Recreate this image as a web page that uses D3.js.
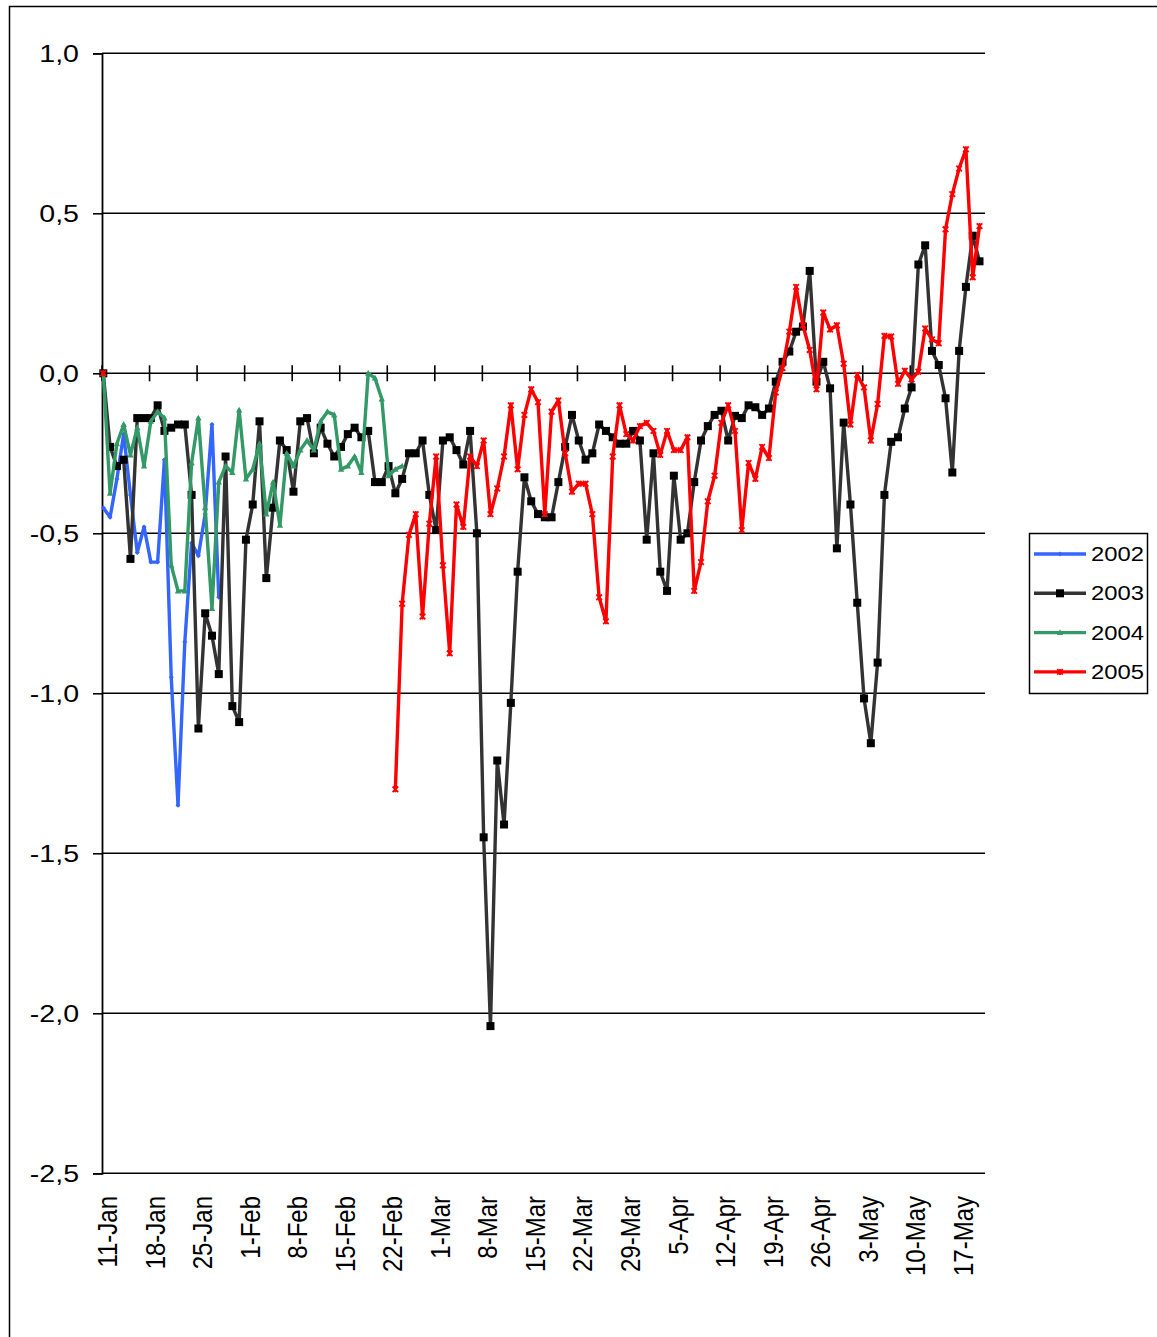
<!DOCTYPE html>
<html>
<head>
    <title>Line Chart</title>
    <script src="https://d3js.org/d3.v7.min.js"></script>
    <style>
        body { margin: 0; background: #fff; }
    </style>
</head>
<body>
    <div id="chart"></div>
    <script>

// day 0 = 11-Jan, one value per day
const tickLabels = ["11-Jan", "18-Jan", "25-Jan", "1-Feb", "8-Feb", "15-Feb", "22-Feb", "1-Mar", "8-Mar",
  "15-Mar", "22-Mar", "29-Mar", "5-Apr", "12-Apr", "19-Apr", "26-Apr", "3-May", "10-May", "17-May"];
const yTicks = [1.0, 0.5, 0.0, -0.5, -1.0, -1.5, -2.0, -2.5];

const values2002 = [-0.42, -0.45, -0.33, -0.19, -0.38, -0.56, -0.48, -0.59, -0.59, -0.27,
  -0.95, -1.35, -0.84, -0.53, -0.57, -0.44, -0.16, -0.70];

const values2003 = [0.00, -0.23, -0.29, -0.27, -0.58, -0.14, -0.14, -0.14, -0.10, -0.18,
  -0.17, -0.16, -0.16, -0.38, -1.11, -0.75, -0.82, -0.94, -0.26, -1.04,
  -1.09, -0.52, -0.41, -0.15, -0.64, -0.42, -0.21, -0.24, -0.37, -0.15,
  -0.14, -0.25, -0.17, -0.22, -0.26, -0.23, -0.19, -0.17, -0.20, -0.18,
  -0.34, -0.34, -0.29, -0.375, -0.33, -0.25, -0.25, -0.21, -0.38, -0.49,
  -0.21, -0.20, -0.24, -0.285, -0.18, -0.50, -1.45, -2.04, -1.21, -1.41,
  -1.03, -0.62, -0.325, -0.40, -0.44, -0.45, -0.45, -0.34, -0.23, -0.13,
  -0.21, -0.27, -0.25, -0.16, -0.18, -0.20, -0.22, -0.22, -0.18, -0.21,
  -0.52, -0.25, -0.62, -0.68, -0.32, -0.52, -0.50, -0.34, -0.21, -0.165,
  -0.13, -0.117, -0.21, -0.133, -0.14, -0.10, -0.106, -0.13, -0.11, -0.026,
  0.036, 0.068, 0.13, 0.146, 0.32, -0.026, 0.036, -0.047, -0.547, -0.154,
  -0.41, -0.717, -1.016, -1.156, -0.904, -0.38, -0.214, -0.20, -0.11, -0.044,
  0.34, 0.40, 0.07, 0.026, -0.078, -0.31, 0.07, 0.27, 0.43, 0.35];

const values2004 = [0.00, -0.375, -0.22, -0.16, -0.255, -0.17, -0.29, -0.15, -0.12, -0.14,
  -0.60, -0.68, -0.68, -0.28, -0.14, -0.42, -0.735, -0.34, -0.29, -0.31,
  -0.115, -0.33, -0.30, -0.22, -0.44, -0.34, -0.475, -0.25, -0.29, -0.24,
  -0.21, -0.24, -0.15, -0.12, -0.13, -0.30, -0.29, -0.26, -0.31, 0.00,
  -0.015, -0.08, -0.32, -0.30, -0.29];

// 2005: one value on 11-Jan, then a run from day 43 (22-Feb)
const values2005a = [0.00];
const start2005b = 43;
const values2005b = [-1.30, -0.72, -0.505, -0.44, -0.76, -0.47, -0.26, -0.60, -0.875, -0.41,
  -0.48, -0.26, -0.29, -0.21, -0.44, -0.36, -0.26, -0.10, -0.30, -0.13,
  -0.05, -0.09, -0.44, -0.12, -0.085, -0.25, -0.37, -0.345, -0.345, -0.44,
  -0.70, -0.775, -0.26, -0.10, -0.19, -0.21, -0.165, -0.155, -0.18, -0.255,
  -0.18, -0.24, -0.24, -0.20, -0.68, -0.59, -0.40, -0.32, -0.155, -0.10,
  -0.18, -0.49, -0.28, -0.33, -0.23, -0.265, -0.06, 0.016, 0.13, 0.27,
  0.15, 0.073, -0.05, 0.19, 0.137, 0.15, 0.03, -0.16, -0.005, -0.044,
  -0.21, -0.096, 0.117, 0.115, -0.033, 0.008, -0.019, 0.005, 0.14, 0.106,
  0.094, 0.45, 0.56, 0.64, 0.70, 0.30, 0.46];

const toPoints = (vals, start = 0) => vals.map((v, i) => ({day: start + i, value: v}));

const series = [
  {name: "2002", color: "#3366ff", marker: "diamond", segments: [toPoints(values2002)]},
  {name: "2003", color: "#333333", marker: "square", segments: [toPoints(values2003)]},
  {name: "2004", color: "#339966", marker: "triangle", segments: [toPoints(values2004)]},
  {name: "2005", color: "#ff0000", marker: "cross", segments: [toPoints(values2005a), toPoints(values2005b, start2005b)]}
];

const width = 1157, height = 1337;
const stretch = 1.19; // text in the original is a bit wider than normal

const locale = d3.formatLocale({decimal: ",", thousands: ".", grouping: [3], currency: ["", ""], minus: "-"});
const fmt = locale.format(".1f");

const x = d3.scaleLinear().domain([0, 130]).range([102, 985]);
const y = d3.scaleLinear().domain([-2.5, 1]).range([1173.3, 53.3]);
const dataShift = 1.3; // points sit a hair right of the tick marks

const svg = d3.create("svg")
    .attr("width", width)
    .attr("height", height)
    .attr("viewBox", [0, 0, width, height])
    .attr("font-family", "Arial, 'Liberation Sans', sans-serif");

svg.append("rect")
    .attr("x", 9.5).attr("y", 6.5)
    .attr("width", 1170).attr("height", 1350)
    .attr("fill", "#fff")
    .attr("stroke", "#000")
    .attr("stroke-width", 1.5);

// horizontal gridlines
svg.append("g")
    .selectAll("line")
    .data(yTicks)
    .join("line")
      .attr("x1", x(0)).attr("x2", 985)
      .attr("y1", d => y(d)).attr("y2", d => y(d))
      .attr("stroke", "#000")
      .attr("stroke-width", 1.6);

// y axis
const yAxis = svg.append("g")
    .attr("transform", `translate(${x(0)},0)`)
    .call(d3.axisLeft(y).tickValues(yTicks).tickSize(9).tickFormat(fmt));
yAxis.select(".domain").attr("stroke-width", 1.8);
yAxis.selectAll(".tick line").attr("stroke-width", 1.6);
yAxis.selectAll(".tick text")
    .attr("font-size", 24)
    .attr("x", null)
    .attr("transform", `translate(-23,0) scale(${stretch},1)`)
    .attr("dy", "0.35em")
    .attr("fill", "#000");

// category axis crossing at 0, ticks every 7 days
const tickDays = tickLabels.map((d, i) => i * 7);
svg.append("g")
    .selectAll("line")
    .data(tickDays)
    .join("line")
      .attr("x1", d => x(d)).attr("x2", d => x(d))
      .attr("y1", y(0) - 8).attr("y2", y(0) + 8)
      .attr("stroke", "#000")
      .attr("stroke-width", 1.6);

svg.append("g")
    .selectAll("text")
    .data(tickDays)
    .join("text")
      .attr("transform", d => `translate(${x(d) + 5},1196) scale(${stretch},1) rotate(-90)`)
      .attr("text-anchor", "end")
      .attr("dy", "0.35em")
      .attr("font-size", 24)
      .text((d, i) => tickLabels[i]);

// marker shapes
function marker(g, type, color) {
  if (type === "square") {
    g.append("rect").attr("x", -4).attr("y", -4).attr("width", 8).attr("height", 8).attr("fill", "#000");
  } else if (type === "diamond") {
    g.append("path").attr("d", "M0,-2.5L2.5,0L0,2.5L-2.5,0Z").attr("fill", color);
  } else if (type === "triangle") {
    g.append("path").attr("d", "M0,-3.4L3.2,2.5L-3.2,2.5Z").attr("fill", color);
  } else {
    g.append("path").attr("d", "M-2.8,-2.8L2.8,2.8M2.8,-2.8L-2.8,2.8M0,-3L0,3")
        .attr("stroke", color).attr("stroke-width", 1.8).attr("fill", "none");
  }
}

const line = d3.line()
    .defined(d => d.value != null)
    .x(d => x(d.day) + dataShift)
    .y(d => y(d.value));

for (const s of series) {
  const g = svg.append("g");
  for (const seg of s.segments) {
    g.append("path")
        .attr("d", line(seg))
        .attr("fill", "none")
        .attr("stroke", s.color)
        .attr("stroke-width", 3.4)
        .attr("stroke-linejoin", "round");
    g.selectAll(null)
      .data(seg.filter(d => d.value != null))
      .join("g")
        .attr("transform", d => `translate(${x(d.day) + dataShift},${y(d.value)})`)
        .each(function() { marker(d3.select(this), s.marker, s.color); });
  }
}

// legend
const legend = svg.append("g");
legend.append("rect")
    .attr("x", 1029.5).attr("y", 533.5)
    .attr("width", 118).attr("height", 160)
    .attr("fill", "#fff")
    .attr("stroke", "#000")
    .attr("stroke-width", 1.5);

const item = legend.selectAll("g")
  .data(series)
  .join("g")
    .attr("transform", (d, i) => `translate(0,${554 + i * 39.3})`);
item.append("line")
    .attr("x1", 1034).attr("x2", 1086)
    .attr("stroke", d => d.color)
    .attr("stroke-width", 3.4);
item.append("g")
    .attr("transform", "translate(1060,0)")
    .each(function(d) { marker(d3.select(this), d.marker, d.color); });
item.append("text")
    .attr("transform", `translate(1091,0) scale(${stretch},1)`)
    .attr("dy", "0.35em")
    .attr("font-size", 20)
    .text(d => d.name);

document.getElementById('chart').appendChild(svg.node());

    </script>
</body>
</html>
